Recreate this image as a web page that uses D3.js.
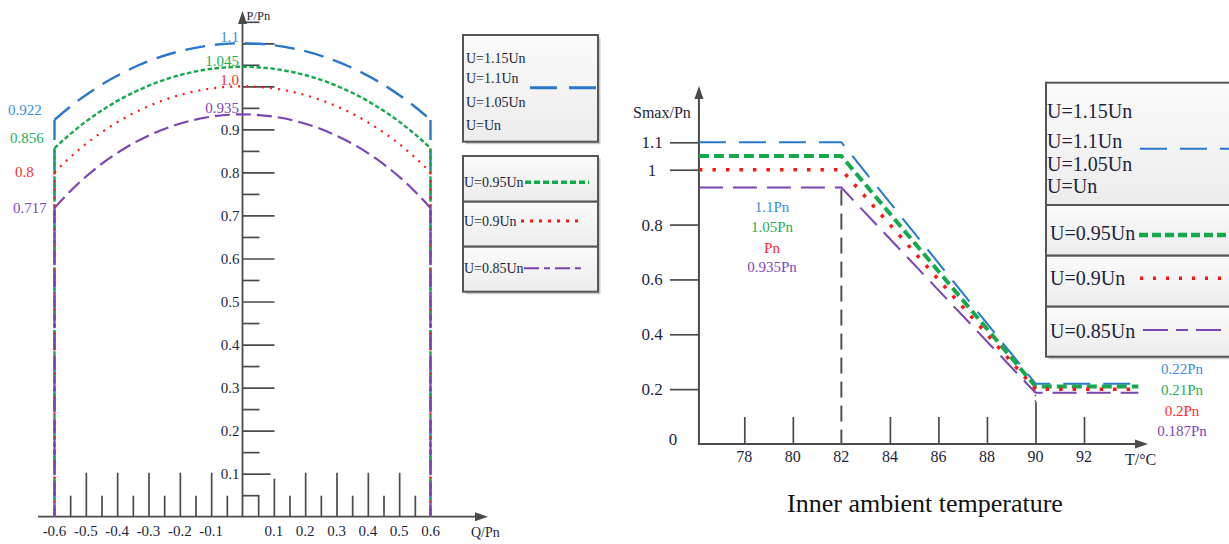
<!DOCTYPE html>
<html>
<head>
<meta charset="utf-8">
<script src="https://cdn.jsdelivr.net/npm/d3@7"></script>
<style>
  html, body { margin: 0; padding: 0; background: #fff; }
  svg { display: block; font-family: "Liberation Serif", "Times New Roman", serif; }
</style>
</head>
<body>
<svg id="chart" width="1229" height="544"></svg>
<script>
// ---------- data: P-Q capability at each terminal voltage ----------
const capacityPeak  = [1.1, 1.045, 1.0, 0.935];    // P/Pn at Q = 0
const capacityEdge  = [0.922, 0.856, 0.8, 0.717];  // P/Pn at Q = ±0.6
const peakLabels    = ["1.1", "1.045", "1.0", "0.935"];
const edgeLabels    = ["0.922", "0.856", "0.8", "0.717"];
const qLimits       = [-0.6, 0.6];
const qTickLabels   = [-0.6, -0.5, -0.4, -0.3, -0.2, -0.1, 0.1, 0.2, 0.3, 0.4, 0.5, 0.6];
const pTickLabels   = [0.1, 0.2, 0.3, 0.4, 0.5, 0.6, 0.7, 0.8, 0.9];

// ---------- data: derating against inner ambient temperature ----------
const tempBreaks    = [76.13, 82, 90, 94.24];      // start, knee, floor, end (°C)
const smaxHigh      = [1.1, 1.05, 1.0, 0.935];
const smaxLow       = [0.22, 0.21, 0.2, 0.187];
const highLabels    = ["1.1Pn", "1.05Pn", "Pn", "0.935Pn"];
const lowLabels     = ["0.22Pn", "0.21Pn", "0.2Pn", "0.187Pn"];
const tempTicks     = [78, 80, 82, 84, 86, 88, 90, 92];
const smaxTicks     = [0.2, 0.4, 0.6, 0.8, 1, 1.1];
const smaxTickText  = ["0.2", "0.4", "0.6", "0.8", "1", "1.1"];

// ---------- legend text ----------
const legendGroupTop = ["U=1.15Un", "U=1.1Un", "U=1.05Un", "U=Un"];
const legendSingles  = ["U=0.95Un", "U=0.9Un", "U=0.85Un"];

// ---------- styles ----------
const lineColors  = ["#2878cc", "#16a94c", "#ff1414", "#7a45b3"];
const labelColors = ["#3a8ee0", "#1fae55", "#ff2a2a", "#7b48b8"];
const leftDash    = ["20,10", "4.5,2.5", "2,6", "15,6"];
const leftWidth   = [2.4, 2.4, 2.2, 2.2];
const rightDash   = ["27,13", "10,5", "3.5,10", "24,10"];
const rightWidth  = [2, 4, 3.5, 2];
const INK  = "#1d1f3c";
const AXIS = "#4a4a4a";

const svg = d3.select("#chart");

const defs = svg.append("defs");
const grad = defs.append("linearGradient").attr("id", "boxFill")
  .attr("x1", 0).attr("y1", 0).attr("x2", 0).attr("y2", 1);
grad.append("stop").attr("offset", "0%").attr("stop-color", "#fbfbfb");
grad.append("stop").attr("offset", "100%").attr("stop-color", "#ececec");

function arrowUp(g, x, yTip) {
  g.append("path").attr("d", `M${x},${yTip}L${x - 4.5},${yTip + 13}L${x + 4.5},${yTip + 13}Z`).attr("fill", AXIS);
}
function arrowRight(g, xTip, y) {
  g.append("path").attr("d", `M${xTip},${y}L${xTip - 13},${y - 4.5}L${xTip - 13},${y + 4.5}Z`).attr("fill", AXIS);
}
function tickAxis(g, axis) {
  g.call(axis.tickFormat(""))
    .call(s => s.select(".domain").remove())
    .call(s => s.selectAll(".tick line").attr("stroke", AXIS).attr("stroke-width", 1.7));
}

// =====================================================================
// Left panel: capability arcs
// =====================================================================
const xL = d3.scaleLinear().domain([-0.6, 0.6]).range([54.5, 430.5]);
const yL = d3.scaleLinear().domain([0, 1.1]).range([516.7, 43.3]);
const left = svg.append("g");
const x0L = xL(0), y0L = yL(0);

// y ticks (long every 0.1, short in between), pointing right
tickAxis(left.append("g").attr("transform", `translate(${x0L},0)`),
  d3.axisRight(yL).tickValues(d3.range(2, 12).map(i => i / 10)).tickSize(32));
tickAxis(left.append("g").attr("transform", `translate(${x0L},0)`),
  d3.axisRight(yL).tickValues([0.1]).tickSize(28));
tickAxis(left.append("g").attr("transform", `translate(${x0L},0)`),
  d3.axisRight(yL).tickValues(d3.range(0, 22).map(i => (2 * i + 1) / 20)).tickSize(17));

// x ticks, pointing up
const qLong = [-0.5, -0.4, -0.3, -0.2, -0.1, 0.2, 0.3, 0.4, 0.5];
const qShort = d3.range(-6, 6).map(i => (2 * i + 1) / 20);
tickAxis(left.append("g").attr("transform", `translate(0,${y0L})`),
  d3.axisTop(xL).tickValues(qLong).tickSize(44));
tickAxis(left.append("g").attr("transform", `translate(0,${y0L})`),
  d3.axisTop(xL).tickValues([0.1]).tickSize(38));
tickAxis(left.append("g").attr("transform", `translate(0,${y0L})`),
  d3.axisTop(xL).tickValues(qShort).tickSize(21));

// axes
left.append("line").attr("x1", x0L).attr("x2", x0L).attr("y1", y0L).attr("y2", 20)
  .attr("stroke", AXIS).attr("stroke-width", 1.8);
arrowUp(left, x0L, 11);
left.append("line").attr("x1", 38).attr("x2", 478).attr("y1", y0L).attr("y2", y0L)
  .attr("stroke", AXIS).attr("stroke-width", 1.8);
arrowRight(left, 488, y0L);

left.append("text").attr("x", x0L + 4).attr("y", 20).attr("font-size", 12.5).attr("fill", INK).text("P/Pn");
left.append("text").attr("x", 471).attr("y", 537).attr("font-size", 14).attr("fill", INK).text("Q/Pn");

// tick labels
left.selectAll("text.py").data(pTickLabels).join("text").attr("class", "py")
  .attr("x", x0L - 3).attr("y", d => yL(d)).attr("dy", "0.35em")
  .attr("text-anchor", "end").attr("font-size", 15).attr("fill", INK).text(d => d);
left.selectAll("text.qx").data(qTickLabels).join("text").attr("class", "qx")
  .attr("x", d => xL(d)).attr("y", 536)
  .attr("text-anchor", "middle").attr("font-size", 15).attr("fill", INK).text(d => d);

// capability arcs: circle S in per-unit, an ellipse on screen
function arcPath(peak, edge) {
  const xa = xL(qLimits[0]), xb = xL(qLimits[1]), y = yL(edge);
  const rx = xL(peak) - x0L, ry = y0L - yL(peak);
  return `M${xa},${y}A${rx},${ry} 0 0 1 ${xb},${y}`;
}
capacityPeak.forEach((peak, i) => {
  const style = s => s.attr("fill", "none").attr("stroke", lineColors[i])
    .attr("stroke-width", leftWidth[i]).attr("stroke-dasharray", leftDash[i]);
  left.append("path").attr("d", arcPath(peak, capacityEdge[i])).call(style);
  qLimits.forEach(q => {
    left.append("line").attr("x1", xL(q)).attr("x2", xL(q))
      .attr("y1", yL(capacityEdge[i])).attr("y2", y0L).call(style);
  });
});

// peak and edge annotations
left.selectAll("text.peak").data(capacityPeak).join("text").attr("class", "peak")
  .attr("x", x0L - 3.5).attr("y", d => yL(d) - 1).attr("text-anchor", "end")
  .attr("font-size", 15).attr("fill", (d, i) => labelColors[i]).text((d, i) => peakLabels[i]);
const edgeX = [8, 10, 15, 13], edgeDy = [-5, -5, 4.5, 5];
left.selectAll("text.edge").data(capacityEdge).join("text").attr("class", "edge")
  .attr("x", (d, i) => edgeX[i]).attr("y", (d, i) => yL(d) + edgeDy[i])
  .attr("font-size", 15).attr("fill", (d, i) => labelColors[i]).text((d, i) => edgeLabels[i]);

// left legend
const legL = svg.append("g");
function box(g, x, y, w, h) {
  g.append("rect").attr("x", x + 2.5).attr("y", y + 2.5).attr("width", w).attr("height", h).attr("fill", "#c8c8c8");
  g.append("rect").attr("x", x).attr("y", y).attr("width", w).attr("height", h)
    .attr("fill", "url(#boxFill)").attr("stroke", "#555").attr("stroke-width", 2);
}
box(legL, 463, 35, 135, 106.7);
box(legL, 463, 156, 135, 45.7);
box(legL, 463, 201.7, 135, 45);
box(legL, 463, 246.7, 135, 45);
const topBase = [63, 83, 107, 130];
legL.selectAll("text.lt").data(legendGroupTop).join("text").attr("class", "lt")
  .attr("x", 466).attr("y", (d, i) => topBase[i]).attr("font-size", 14).attr("fill", INK).text(d => d);
legL.append("line").attr("x1", 530).attr("x2", 597).attr("y1", 87.7).attr("y2", 87.7)
  .attr("stroke", lineColors[0]).attr("stroke-width", 3).attr("stroke-dasharray", "27,12");
const singleBase = [187, 226, 273];
legL.selectAll("text.ls").data(legendSingles).join("text").attr("class", "ls")
  .attr("x", 464).attr("y", (d, i) => singleBase[i]).attr("font-size", 14).attr("fill", INK).text(d => d);
const lsLine = [[525, 589, 182.3], [521, 583, 221], [524, 586, 268.3]];
const lsDash = ["6,3", "3,6", "15,5,6,5"], lsWidth = [3.5, 3, 2];
lsLine.forEach((l, i) => {
  legL.append("line").attr("x1", l[0]).attr("x2", l[1]).attr("y1", l[2]).attr("y2", l[2])
    .attr("stroke", lineColors[i + 1]).attr("stroke-width", lsWidth[i]).attr("stroke-dasharray", lsDash[i]);
});

// =====================================================================
// Right panel: apparent-power limit against temperature
// =====================================================================
const xR = d3.scaleLinear().domain([78, 92]).range([744.3, 1084]);
const yR = d3.scaleLinear().domain([0, 1.1]).range([444, 142.3]);
const right = svg.append("g");
const axX = xR(tempBreaks[0]), axY = yR(0);

// y ticks pointing left
tickAxis(right.append("g").attr("transform", `translate(${axX},0)`),
  d3.axisLeft(yR).tickValues(smaxTicks).tickSize(29));
// x ticks pointing up
tickAxis(right.append("g").attr("transform", `translate(0,${axY})`),
  d3.axisTop(xR).tickValues(tempTicks.filter(t => t !== 82 && t !== 90)).tickSize(27));
tickAxis(right.append("g").attr("transform", `translate(0,${axY})`),
  d3.axisTop(xR).tickValues([90]).tickSize(42));

// axes
right.append("line").attr("x1", axX).attr("x2", axX).attr("y1", axY).attr("y2", 95)
  .attr("stroke", AXIS).attr("stroke-width", 2);
arrowUp(right, axX, 86);
right.append("line").attr("x1", axX - 1).attr("x2", 1138).attr("y1", axY).attr("y2", axY)
  .attr("stroke", AXIS).attr("stroke-width", 2);
arrowRight(right, 1148, axY);

// knee and floor guide lines
right.append("line").attr("x1", xR(tempBreaks[1])).attr("x2", xR(tempBreaks[1]))
  .attr("y1", yR(smaxHigh[3]) + 2).attr("y2", axY)
  .attr("stroke", "#555").attr("stroke-width", 2).attr("stroke-dasharray", "16,8");
right.append("line").attr("x1", xR(tempBreaks[2])).attr("x2", xR(tempBreaks[2]))
  .attr("y1", yR(smaxLow[3]) + 2).attr("y2", axY - 42)
  .attr("stroke", "#555").attr("stroke-width", 1.5).attr("stroke-dasharray", "1.5,4");

// tick labels
right.selectAll("text.sy").data(smaxTicks).join("text").attr("class", "sy")
  .attr("x", 652).attr("y", d => yR(d)).attr("dy", "0.35em").attr("text-anchor", "middle")
  .attr("font-size", 17).attr("fill", INK).text((d, i) => smaxTickText[i]);
right.append("text").attr("x", 673).attr("y", axY - 5).attr("dy", "0.35em").attr("text-anchor", "middle")
  .attr("font-size", 17).attr("fill", INK).text("0");
right.selectAll("text.tx").data(tempTicks).join("text").attr("class", "tx")
  .attr("x", d => xR(d)).attr("y", 462).attr("text-anchor", "middle")
  .attr("font-size", 16).attr("fill", INK).text(d => d);

right.append("text").attr("x", 633).attr("y", 118).attr("font-size", 16).attr("fill", INK).text("Smax/Pn");
right.append("text").attr("x", 1125).attr("y", 465).attr("font-size", 16).attr("fill", INK).text("T/°C");
right.append("text").attr("x", 925).attr("y", 512).attr("text-anchor", "middle")
  .attr("font-size", 26).attr("fill", "#111").text("Inner ambient temperature");

// derating curves
const derate = d3.line().x(d => xR(d[0])).y(d => yR(d[1]));
smaxHigh.forEach((hi, i) => {
  const pts = [[tempBreaks[0], hi], [tempBreaks[1], hi], [tempBreaks[2], smaxLow[i]], [tempBreaks[3], smaxLow[i]]];
  right.append("path").attr("d", derate(pts)).attr("fill", "none")
    .attr("stroke", lineColors[i]).attr("stroke-width", rightWidth[i]).attr("stroke-dasharray", rightDash[i]);
});

// value annotations
const hiBase = [212, 231.5, 252.5, 272];
right.selectAll("text.hi").data(highLabels).join("text").attr("class", "hi")
  .attr("x", 772).attr("y", (d, i) => hiBase[i]).attr("text-anchor", "middle")
  .attr("font-size", 15).attr("fill", (d, i) => labelColors[i]).text(d => d);
const loBase = [373.5, 395, 416, 436];
right.selectAll("text.lo").data(lowLabels).join("text").attr("class", "lo")
  .attr("x", 1182).attr("y", (d, i) => loBase[i]).attr("text-anchor", "middle")
  .attr("font-size", 15).attr("fill", (d, i) => labelColors[i]).text(d => d);

// right legend
const legR = svg.append("g");
box(legR, 1046, 82.7, 200, 122.3);
box(legR, 1046, 205, 200, 50.7);
box(legR, 1046, 255.7, 200, 51);
box(legR, 1046, 306.7, 200, 50);
const rTopBase = [118, 148, 170.5, 193];
legR.selectAll("text.rt").data(legendGroupTop).join("text").attr("class", "rt")
  .attr("x", 1047).attr("y", (d, i) => rTopBase[i]).attr("font-size", 20).attr("fill", INK).text(d => d);
legR.append("line").attr("x1", 1140).attr("x2", 1240).attr("y1", 148.7).attr("y2", 148.7)
  .attr("stroke", lineColors[0]).attr("stroke-width", 2).attr("stroke-dasharray", "27,13");
const rSingleBase = [240, 285, 338];
legR.selectAll("text.rs").data(legendSingles).join("text").attr("class", "rs")
  .attr("x", 1050).attr("y", (d, i) => rSingleBase[i]).attr("font-size", 20).attr("fill", INK).text(d => d);
const rsLine = [[1139, 235], [1140, 278.3], [1143, 330]];
const rsDash = ["9,4", "3,10", "25,8,12,8"], rsWidth = [4.5, 3.5, 2];
rsLine.forEach((l, i) => {
  legR.append("line").attr("x1", l[0]).attr("x2", 1240).attr("y1", l[1]).attr("y2", l[1])
    .attr("stroke", lineColors[i + 1]).attr("stroke-width", rsWidth[i]).attr("stroke-dasharray", rsDash[i]);
});
</script>
</body>
</html>
